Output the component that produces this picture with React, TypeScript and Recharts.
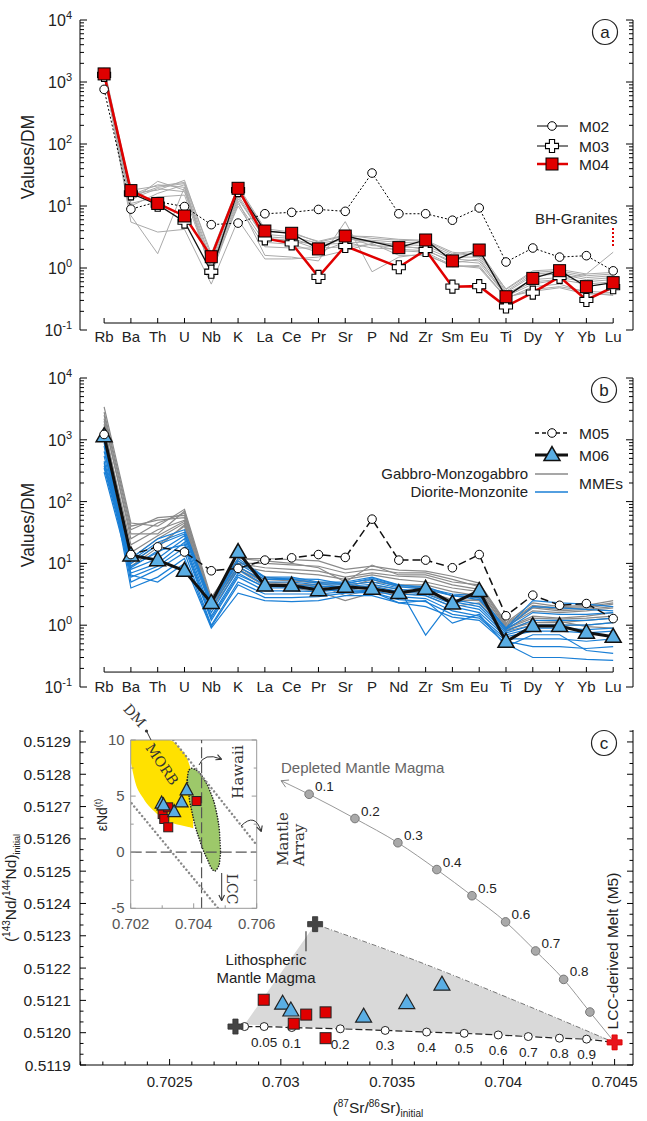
import React from "react";
import {
  LineChart,
  Line,
  XAxis,
  YAxis,
  ReferenceLine,
  ComposedChart,
  Area,
  Scatter,
  LabelList,
} from "recharts";

const FONT = "'Liberation Sans', Arial, Helvetica, sans-serif";
const SERIF = "'DejaVu Serif', 'Liberation Serif', serif";

// ---------- spider diagrams (a) and (b) ----------
const ELEMENTS = ["Rb", "Ba", "Th", "U", "Nb", "K", "La", "Ce", "Pr", "Sr", "P", "Nd", "Zr", "Sm", "Eu", "Ti", "Dy", "Y", "Yb", "Lu"];
const IDX = ELEMENTS.map((_, i) => i);

// (a) granites
const M02 = [760, 8.9, 11.7, 9.8, 5.0, 5.3, 7.5, 7.9, 8.8, 8.2, 34, 7.5, 7.5, 5.9, 9.3, 1.25, 2.1, 1.5, 1.58, 0.9];
const M03 = [1300, 16, 10.5, 5.6, 0.87, 18, 3.0, 2.5, 0.72, 2.26, null, 1.03, 1.95, 0.5, 0.51, 0.24, 0.4, 0.72, 0.305, 0.49];
const M04 = [1350, 17.7, 11, 6.9, 1.52, 19.3, 3.95, 3.63, 2.03, 3.28, null, 2.13, 2.83, 1.3, 1.95, 0.344, 0.68, 0.905, 0.5, 0.58];
const BH_GRANITES = [
  [1500, 15, 22, 20, 1.2, 15, 3.2, 3.0, 2.2, 3.0, 2.6, 2.4, 2.3, 1.5, 1.5, 0.4, 0.75, 0.8, 0.65, 0.7],
  [1400, 14, 20, 23, 1.3, 17, 3.5, 3.2, 2.5, 2.9, 2.8, 2.6, 2.5, 1.6, 1.7, 0.42, 0.8, 0.85, 0.7, 0.75],
  [1300, 12, 25, 18, 1.0, 13, 3.0, 2.8, 2.0, 3.2, 2.3, 2.2, 2.1, 1.4, 1.3, 0.38, 0.65, 0.7, 0.6, 0.65],
  [1600, 16, 18, 26, 1.5, 20, 4.0, 3.6, 2.7, 3.4, 3.0, 2.8, 2.7, 1.7, 1.9, 0.45, 0.85, 0.9, 0.75, 0.8],
  [1200, 10, 16, 22, 0.8, 11, 2.6, 2.4, 1.8, 2.6, 2.1, 2.0, 1.9, 1.3, 1.2, 0.36, 0.6, 0.65, 0.55, 0.6],
  [1450, 5.5, 3.8, 4.2, 0.55, 6.0, 1.4, 1.4, 1.5, 1.9, 2.5, 1.6, 1.6, 1.1, 1.0, 0.33, 0.45, 0.5, 0.42, 0.4],
  [1350, 7, 1.7, 20, 0.9, 12, 1.6, 1.5, 1.3, 5.6, 0.87, 1.5, 1.7, 1.05, 1.1, 0.32, 0.5, 0.55, 0.4, 0.36],
  [1550, 13, 19, 17, 1.1, 14, 2.9, 2.7, 2.4, 2.5, 2.7, 2.3, 2.0, 1.2, 1.4, 0.35, 0.55, 0.65, 0.8, 1.8],
  [1250, 11, 14, 15, 0.95, 10, 2.2, 2.1, 2.1, 2.2, 2.4, 1.9, 1.8, 1.1, 1.05, 0.34, 0.42, 0.48, 0.38, 0.38],
  [1700, 18, 21, 24, 1.7, 21, 4.3, 3.8, 2.6, 3.3, 3.2, 2.9, 2.8, 1.8, 1.6, 0.46, 0.9, 0.95, 0.8, 0.85],
];

// (b) MMEs
const M05 = [1220, 13.9, 18.5, 15.3, 7.6, 8.3, 11.3, 12.3, 13.9, 12.5, 52, 11.3, 11.3, 8.5, 13.9, 1.42, 3.06, 2.1, 2.24, 1.28];
const M06 = [1150, 13.5, 11.3, 7.6, 2.3, 15.3, 4.4, 4.4, 3.7, 4.2, 3.9, 3.33, 3.9, 2.25, 3.6, 0.54, 0.97, 0.97, 0.76, 0.65];
const GABBRO = [
  [3400, 45, 40, 75, 2.8, 12, 12, 11.5, 11, 8, 9, 7.8, 7.5, 6.2, 4.8, 1.1, 2.3, 2.0, 2.1, 2.5],
  [2500, 35, 55, 60, 2.5, 10, 10, 9.5, 9, 7, 8, 7, 7, 5.5, 4.2, 1.0, 2.0, 1.8, 1.9, 2.2],
  [2000, 30, 30, 70, 2.3, 9, 7.5, 7, 6.5, 5.5, 6.5, 5.5, 5, 4, 3.5, 0.95, 1.7, 1.6, 1.7, 1.9],
  [1500, 20, 35, 50, 2.0, 11, 6, 5.5, 5, 4.5, 5, 4.5, 4.5, 3.5, 3.0, 0.9, 1.4, 1.3, 1.4, 1.6],
  [1800, 12, 25, 45, 2.2, 8, 5, 4.8, 4.2, 3.5, 4.5, 3.8, 3.5, 2.6, 2.5, 0.85, 1.1, 1.1, 1.2, 1.3],
  [1200, 10, 20, 40, 1.8, 7.8, 4.3, 4.0, 3.5, 2.5, 3.3, 3.3, 3.0, 2.0, 2.3, 0.8, 1.0, 1.0, 1.0, 1.1],
  [2200, 25, 45, 65, 2.6, 10, 8.5, 8, 7.5, 6, 7, 6.2, 6.0, 4.5, 3.8, 0.95, 1.9, 1.7, 1.8, 2.0],
  [1000, 9, 18, 42, 1.9, 9, 4.8, 4.6, 4.5, 3, 3.8, 3.6, 3.3, 2.3, 2.7, 0.82, 1.2, 1.15, 0.95, 0.9],
  [2800, 40, 50, 55, 2.4, 12, 11, 10, 8.5, 5, 9.4, 6.5, 6.5, 5, 4.5, 1.05, 2.1, 1.9, 2.0, 2.3],
  [1400, 15, 28, 48, 2.1, 8.5, 5.5, 5.2, 4.8, 4, 5.5, 4.2, 4.0, 3.0, 3.2, 0.88, 1.3, 1.25, 1.3, 1.4],
];
const DIORITE = [
  [450, 12, 25, 35, 2.5, 12, 6, 6, 5, 5, 6, 4.5, 4, 3.2, 3.0, 0.9, 2.5, 2.3, 2.2, 2.0],
  [420, 10, 20, 30, 2.2, 10, 5.5, 5.5, 4.8, 4.8, 5.5, 4.2, 3.8, 3.0, 2.6, 0.85, 1.6, 1.5, 1.5, 1.6],
  [380, 9, 15, 28, 1.9, 9, 5, 5, 4.5, 4.5, 5, 4, 0.69, 2.6, 2.2, 0.8, 1.2, 1.2, 1.2, 1.3],
  [350, 8, 12, 25, 1.6, 8, 4.5, 4.5, 4.2, 4.2, 4.6, 3.8, 3.5, 2.4, 2.0, 0.75, 1.0, 1.0, 1.0, 1.1],
  [300, 7, 10, 22, 1.4, 7, 4, 4, 3.8, 4, 4.3, 3.5, 3.2, 2.2, 1.8, 0.7, 0.9, 0.9, 0.85, 0.9],
  [1000, 6, 9, 18, 1.2, 6, 3.6, 3.6, 3.5, 3.8, 4, 3.2, 3, 2.0, 1.6, 0.65, 0.8, 0.8, 0.75, 0.8],
  [900, 5, 8, 15, 1.0, 5, 3.2, 3.2, 3.2, 3.5, 3.7, 2.9, 2.7, 1.7, 1.4, 0.6, 0.6, 0.6, 0.55, 0.6],
  [800, 4, 6, 12, 0.95, 4.5, 2.8, 2.8, 2.9, 3.3, 3.4, 2.6, 2.4, 1.5, 1.3, 0.55, 0.45, 0.45, 0.42, 0.45],
  [1100, 6.5, 5, 10, 0.9, 3.3, 2.5, 2.4, 2.5, 3.0, 3.0, 2.3, 2.0, 1.35, 1.2, 0.5, 0.3, 0.3, 0.28, 0.27],
  [650, 11, 22, 32, 2.3, 11, 5.8, 5.6, 5.5, 4.6, 5.8, 4.4, 4.2, 3.0, 2.8, 0.88, 2.0, 1.9, 1.8, 1.7],
  [550, 8.5, 16, 20, 1.3, 6.5, 4.2, 4.2, 4, 3.6, 3.5, 2.3, 2.5, 1.08, 1.5, 0.45, 0.7, 0.7, 0.39, 0.35],
];

// ---------- (c) Sr-Nd isotopes ----------
const SR_SQUARES = [0.702923, 0.703058, 0.703114, 0.703201, 0.703201];
const ND_SQUARES = [0.512102, 0.512028, 0.512056, 0.512063, 0.511983];
const SR_TRIANGLES = [0.703008, 0.703045, 0.703372, 0.703566, 0.703724];
const ND_TRIANGLES = [0.51209, 0.512069, 0.51205, 0.512092, 0.512149];

// end members
const SR_ENDS_GRAY = [0.703154, 0.702796];
const ND_ENDS_GRAY = [0.512336, 0.512019];
const SR_LCC = 0.7045;
const ND_LCC = 0.51197;

// mixing with lithospheric mantle magma (open circles)
const MIX_LOW_LABELS = ["", "0.05", "0.1", "0.2", "0.3", "0.4", "0.5", "0.6", "0.7", "0.8", "0.9"];
const MIX_LOW_SR = [0.702837, 0.702925, 0.703049, 0.703267, 0.703469, 0.703655, 0.703824, 0.703977, 0.704112, 0.704252, 0.704374];
const MIX_LOW_ND = [0.512019, 0.512019, 0.512016, 0.512012, 0.512007, 0.512002, 0.511998, 0.511993, 0.511988, 0.511983, 0.51198];

// mixing with depleted mantle magma (grey circles)
const DMM_TIP = [0.703001, 0.51278];
const MIX_UP_LABELS = ["0.1", "0.2", "0.3", "0.4", "0.5", "0.6", "0.7", "0.8", ""];
const MIX_UP_SR = [0.703127, 0.703333, 0.703526, 0.703701, 0.703859, 0.70401, 0.704145, 0.704271, 0.704389];
const MIX_UP_ND = [0.512738, 0.512663, 0.512588, 0.512505, 0.512424, 0.512343, 0.512253, 0.512165, 0.512064];

// grey field (lower and upper edges)
const FIELD_SR = [0.702837, 0.703154, 0.7036, 0.70405, 0.70447];
const FIELD_LO = [0.512025, 0.512016, 0.512005, 0.511992, 0.511978];
const FIELD_HI = [0.512025, 0.512336, 0.512225, 0.5121, 0.511978];

// inset: eNd(t) vs Sr
const MORB_SR = [0.702, 0.70214, 0.7024, 0.70282, 0.70322, 0.70356, 0.70383, 0.70393, 0.703985];
const MORB_LO = [8.07, 6.29, 4.8, 3.46, 2.72, 2.42, 2.25, 2.18, 2.13];
const MORB_HI = [10, 10, 10, 10, 10, 9.26, 8.07, 6.88, 5.39];
const HAWAII_SR = [0.703794, 0.70383, 0.70386, 0.70393, 0.70404, 0.7042, 0.70428, 0.70446, 0.70451, 0.70467, 0.70478, 0.70481, 0.704853];
const HAWAII_LO = [6.43, 5.6, 4.8, 3.8, 2.42, 1.0, 0.35, -0.8, -1.14, -1.68, -1.29, -1.1, 0.04];
const HAWAII_HI = [6.43, 7.2, 7.35, 7.48, 7.38, 7.03, 6.7, 5.84, 5.5, 4.21, 2.7, 2.13, 0.04];
const ARRAY_UPPER = [[0.70335, 10], [0.706, 0.64]];
const ARRAY_LOWER = [[0.70203, 4.36], [0.704777, -5]];
const INSET_SQ_SR = [0.703014, 0.703065, 0.703192, 0.70319, 0.70409];
const INSET_SQ_END = [3.4, 2.96, 2.22, 4.0, 4.56];
const INSET_TRI_SR = [0.702982, 0.70338, 0.703617, 0.703775, 0.70304];
const INSET_TRI_END = [4.36, 3.6, 4.47, 5.54, 4.2];

// ---------- helpers ----------
const RED = "#e00000";
const BLUE_FILL = "#5aaee4";
const BLUE_LINE = "#1a7fd6";

const LOG_TICKS: number[] = [];
for (let e = -1; e <= 3; e++) for (let k = 1; k <= 9; k++) LOG_TICKS.push(+(k * Math.pow(10, e)).toPrecision(6));
LOG_TICKS.push(10000);
const isPow10 = (v: number) => Math.abs(Math.log10(v) - Math.round(Math.log10(v))) < 1e-9;

const plusPath = (cx: number, cy: number, a: number, b: number) =>
  `M${cx - b},${cy - a}H${cx + b}V${cy - b}H${cx + a}V${cy + b}H${cx + b}V${cy + a}H${cx - b}V${cy + b}H${cx - a}V${cy - b}H${cx - b}Z`;
const triPath = (cx: number, cy: number, w: number, h: number) =>
  `M${cx},${cy - h * 0.6}L${cx + w / 2},${cy + h * 0.4}L${cx - w / 2},${cy + h * 0.4}Z`;

const ok = (p: any) => p.cx != null && p.cy != null && p.value != null && !Number.isNaN(p.cy);

const circleDot = (r: number, fill = "#fff", stroke = "#000") => (p: any) =>
  ok(p) ? <circle key={p.index} cx={p.cx} cy={p.cy} r={r} fill={fill} stroke={stroke} strokeWidth={1} /> : <g key={p.index} />;
const crossDot = (p: any) =>
  ok(p) ? <path key={p.index} d={plusPath(p.cx, p.cy, 6.5, 2.6)} fill="#fff" stroke="#000" strokeWidth={1.1} /> : <g key={p.index} />;
const squareDot = (p: any) =>
  ok(p) ? <rect key={p.index} x={p.cx - 6} y={p.cy - 6} width={12} height={12} fill={RED} stroke="#000" strokeWidth={1} /> : <g key={p.index} />;
const triDot = (p: any) =>
  ok(p) ? <path key={p.index} d={triPath(p.cx, p.cy, 16, 14)} fill={BLUE_FILL} stroke="#111" strokeWidth={1.5} /> : <g key={p.index} />;

const LogTickLeft = (p: any) => {
  const v = p.payload.value;
  const major = isPow10(v);
  return (
    <g>
      <line x1={p.x} x2={p.x + (major ? 7 : 4)} y1={p.y} y2={p.y} stroke="#000" />
      {major && (
        <text x={p.x - 8} y={p.y + 6} textAnchor="end" fontSize={16} fontFamily={FONT} fill="#222">
          10<tspan dy={-7} fontSize={11}>{Math.round(Math.log10(v))}</tspan>
        </text>
      )}
    </g>
  );
};
const LogTickRight = (p: any) => {
  const major = isPow10(p.payload.value);
  return <line x1={p.x} x2={p.x - (major ? 7 : 4)} y1={p.y} y2={p.y} stroke="#000" />;
};
const catTick = (lineOff: number, labelOff: number) => (p: any) => {
  const ly = p.y - lineOff;
  return (
    <g>
      <line x1={p.x} x2={p.x} y1={ly} y2={ly - 5} stroke="#000" />
      <text x={p.x} y={ly + labelOff} textAnchor="middle" fontSize={15} fontFamily={FONT} fill="#222">
        {ELEMENTS[p.payload.value]}
      </text>
    </g>
  );
};

function spiderAxes(lineOff: number, labelOff: number, axisValue: number) {
  return [
    <XAxis key="x" dataKey="i" type="number" domain={[-0.9, 19.74]} ticks={IDX} interval={0} allowDataOverflow height={30}
      tickSize={0} tickMargin={0} axisLine={false} tickLine={false} tick={catTick(lineOff, labelOff)} />,
    <YAxis key="l" yAxisId="l" type="number" scale="log" domain={[0.1, 10000]} allowDataOverflow ticks={LOG_TICKS} interval={0}
      width={60} tickSize={0} tickMargin={0} tickLine={false} axisLine={{ stroke: "#000" }} tick={LogTickLeft} />,
    <YAxis key="r" yAxisId="r" orientation="right" type="number" scale="log" domain={[0.1, 10000]} allowDataOverflow ticks={LOG_TICKS}
      interval={0} width={14} tickSize={0} tickMargin={0} tickLine={false} axisLine={{ stroke: "#000" }} tick={LogTickRight} />,
    <ReferenceLine key="cat" yAxisId="l" segment={[{ x: 0, y: axisValue }, { x: 19, y: axisValue }]} stroke="#000" />,
  ];
}

function PanelA() {
  const rows = ELEMENTS.map((name, i) => {
    const r: any = { i, name, m02: M02[i], m03: M03[i], m04: M04[i] };
    // in the source figure the red and black lines swap partners after K
    r.red = i <= 5 ? M04[i] : M03[i];
    r.black = i <= 5 ? M03[i] : M04[i];
    BH_GRANITES.forEach((s, k) => (r["g" + k] = s[i]));
    return r;
  });
  return (
    <LineChart width={647} height={360} data={rows} margin={{ top: 20, right: 0, bottom: 0, left: 20 }}>
      {spiderAxes(7, 19, 0.1 * Math.pow(10, 7 / 62))}
      <Line yAxisId="r" dataKey="m02" stroke="none" dot={false} isAnimationActive={false} />
      {BH_GRANITES.map((_, k) => (
        <Line key={k} yAxisId="l" dataKey={"g" + k} type="linear" stroke="#aaaaaa" strokeWidth={1} dot={false} isAnimationActive={false} />
      ))}
      <Line yAxisId="l" dataKey="m02" type="linear" stroke="#000" strokeWidth={1} strokeDasharray="2 2" dot={circleDot(4.3)} isAnimationActive={false} />
      <Line yAxisId="l" dataKey="black" type="linear" stroke="#111" strokeWidth={1.3} connectNulls dot={false} isAnimationActive={false} />
      <Line yAxisId="l" dataKey="red" type="linear" stroke={RED} strokeWidth={2.5} connectNulls dot={false} isAnimationActive={false} />
      <Line yAxisId="l" dataKey="m03" stroke="none" dot={crossDot} isAnimationActive={false} />
      <Line yAxisId="l" dataKey="m04" stroke="none" dot={squareDot} isAnimationActive={false} />
    </LineChart>
  );
}

function PanelB() {
  const rows = ELEMENTS.map((name, i) => {
    const r: any = { i, name, m05: M05[i], m06: M06[i] };
    GABBRO.forEach((s, k) => (r["g" + k] = s[i]));
    DIORITE.forEach((s, k) => (r["d" + k] = s[i]));
    return r;
  });
  return (
    <LineChart width={647} height={360} data={rows} margin={{ top: 20, right: 0, bottom: 1, left: 20 }}>
      {spiderAxes(15, 20, 0.1 * Math.pow(10, 15 / 62))}
      <Line yAxisId="r" dataKey="m05" stroke="none" dot={false} isAnimationActive={false} />
      {GABBRO.map((_, k) => (
        <Line key={"g" + k} yAxisId="l" dataKey={"g" + k} type="linear" stroke="#8a8a8a" strokeWidth={1.2} dot={false} isAnimationActive={false} />
      ))}
      {DIORITE.map((_, k) => (
        <Line key={"d" + k} yAxisId="l" dataKey={"d" + k} type="linear" stroke={BLUE_LINE} strokeWidth={1.2} dot={false} isAnimationActive={false} />
      ))}
      <Line yAxisId="l" dataKey="m06" type="linear" stroke="#111" strokeWidth={3} dot={triDot} isAnimationActive={false} />
      <Line yAxisId="l" dataKey="m05" type="linear" stroke="#111" strokeWidth={1.5} strokeDasharray="8 4" dot={circleDot(4.3)} isAnimationActive={false} />
    </LineChart>
  );
}

// ---------- (c) ----------
const SR_TICKS: number[] = [];
for (let k = 7021; k <= 7045; k++) SR_TICKS.push(k / 10000);
const ND_TICKS: number[] = [];
for (let j = 0; j <= 31; j++) ND_TICKS.push(+(0.5119 + (j * 0.0001) / 3).toFixed(9));

const SrTick = (p: any) => {
  const v = p.payload.value;
  const major = Math.round(v * 10000) % 5 === 0;
  return (
    <g>
      <line x1={p.x} x2={p.x} y1={p.y} y2={p.y - (major ? 6 : 3.5)} stroke="#000" />
      {major && (
        <text x={p.x} y={p.y + 22} textAnchor="middle" fontSize={15} fontFamily={FONT} fill="#222">
          {String(+v.toFixed(4))}
        </text>
      )}
    </g>
  );
};
const ndMajor = (v: number) => {
  const j = Math.round(((v - 0.5119) / 0.0001) * 3);
  return j % 3 === 0;
};
const NdTickLeft = (p: any) => {
  const v = p.payload.value;
  const major = ndMajor(v);
  return (
    <g>
      <line x1={p.x} x2={p.x + (major ? 6 : 3.5)} y1={p.y} y2={p.y} stroke="#000" />
      {major && (
        <text x={p.x - 9} y={p.y + 5.5} textAnchor="end" fontSize={15.5} fontFamily={FONT} fill="#222">
          {v.toFixed(4)}
        </text>
      )}
    </g>
  );
};
const NdTickRight = (p: any) => {
  const major = ndMajor(p.payload.value);
  return <line x1={p.x} x2={p.x - (major ? 6 : 3.5)} y1={p.y} y2={p.y} stroke="#000" />;
};

const grayPlus = (p: any) => <path d={plusPath(p.cx, p.cy, 7.5, 2.6)} fill="#444" stroke="#333" strokeWidth={0.8} />;
const redPlus = (p: any) => <path d={plusPath(p.cx, p.cy, 7.5, 2.6)} fill="#e8141c" stroke="#d00" strokeWidth={0.8} />;
const sqShape = (s: number) => (p: any) => (
  <rect x={p.cx - s / 2} y={p.cy - s / 2} width={s} height={s} fill={RED} stroke="#222" strokeWidth={1} />
);
const triShape = (w: number, h: number) => (p: any) => (
  <path d={triPath(p.cx, p.cy, w, h)} fill={BLUE_FILL} stroke="#222" strokeWidth={1.2} />
);

function PanelC() {
  const field = FIELD_SR.map((x, i) => ({ x, band: [FIELD_LO[i], FIELD_HI[i]], hi: FIELD_HI[i] }));
  const low = [
    { x: SR_ENDS_GRAY[1], y: ND_ENDS_GRAY[1], kind: "end", lab: "" },
    ...MIX_LOW_SR.map((x, i) => ({ x, y: MIX_LOW_ND[i], kind: "pt", lab: MIX_LOW_LABELS[i] })),
    { x: SR_LCC, y: ND_LCC, kind: "end", lab: "" },
  ];
  const up = [
    { x: DMM_TIP[0], y: DMM_TIP[1], kind: "tip", lab: "" },
    ...MIX_UP_SR.map((x, i) => ({ x, y: MIX_UP_ND[i], kind: "pt", lab: MIX_UP_LABELS[i] })),
    { x: SR_LCC, y: ND_LCC, kind: "end", lab: "" },
  ];
  const squares = SR_SQUARES.map((x, i) => ({ x, y: ND_SQUARES[i] }));
  const triangles = SR_TRIANGLES.map((x, i) => ({ x, y: ND_TRIANGLES[i] }));
  const grays = SR_ENDS_GRAY.map((x, i) => ({ x, y: ND_ENDS_GRAY[i] }));

  const lowDot = (p: any) =>
    p.payload && p.payload.kind === "pt" ? (
      <circle key={p.index} cx={p.cx} cy={p.cy} r={4} fill="#fff" stroke="#222" strokeWidth={1} />
    ) : (
      <g key={p.index} />
    );
  const upDot = (p: any) => {
    if (!p.payload) return <g key={p.index} />;
    if (p.payload.kind === "pt") return <circle key={p.index} cx={p.cx} cy={p.cy} r={4.3} fill="#a9a9a9" stroke="#777" strokeWidth={1} />;
    if (p.payload.kind === "tip")
      return (
        <polyline key={p.index} points={`${p.cx + 4.6},${p.cy + 6.5} ${p.cx},${p.cy} ${p.cx + 8},${p.cy - 0.7}`} fill="none" stroke="#888" strokeWidth={1} />
      );
    return <g key={p.index} />;
  };

  return (
    <ComposedChart width={647} height={411} margin={{ top: 20, right: 0, bottom: 26, left: 20 }}>
      <XAxis dataKey="x" type="number" domain={[0.7020973, 0.7045827]} allowDataOverflow ticks={SR_TICKS} interval={0} height={30}
        tickSize={0} tickMargin={0} tickLine={false} axisLine={{ stroke: "#000" }} tick={SrTick} />
      <YAxis yAxisId="l" type="number" domain={[0.5119, 0.512937]} allowDataOverflow ticks={ND_TICKS} interval={0} width={60}
        tickSize={0} tickMargin={0} tickLine={false} axisLine={{ stroke: "#000" }} tick={NdTickLeft} />
      <YAxis yAxisId="r" orientation="right" type="number" domain={[0.5119, 0.512937]} allowDataOverflow ticks={ND_TICKS} interval={0}
        width={14} tickSize={0} tickMargin={0} tickLine={false} axisLine={{ stroke: "#000" }} tick={NdTickRight} />
      <Area yAxisId="l" data={field} dataKey="band" type="linear" fill="#d9d9d9" fillOpacity={1} stroke="none" isAnimationActive={false} />
      <Line yAxisId="r" data={field.slice(1)} dataKey="hi" type="monotone" stroke="#555" strokeWidth={0.8} strokeDasharray="5 2 1 2" dot={false} isAnimationActive={false} />
      <ReferenceLine yAxisId="l" segment={[{ x: 0.703113, y: 0.512314 }, { x: 0.703113, y: 0.512252 }]} stroke="#222" />
      <Line yAxisId="l" data={up} dataKey="y" type="monotone" stroke="#999" strokeWidth={1} dot={upDot} isAnimationActive={false}>
        <LabelList dataKey="lab" content={(p: any) => (p.value ? <text x={p.x + 6} y={p.y - 3} fontSize={13.5} fontFamily={FONT} fill="#222">{p.value}</text> : null)} />
      </Line>
      <Line yAxisId="l" data={low} dataKey="y" type="linear" stroke="#222" strokeWidth={1.2} strokeDasharray="7 3" dot={lowDot} isAnimationActive={false}>
        <LabelList dataKey="lab" content={(p: any) => (p.value ? <text x={p.x} y={p.y + 20} textAnchor="middle" fontSize={13.5} fontFamily={FONT} fill="#222">{p.value}</text> : null)} />
      </Line>
      <Scatter yAxisId="l" data={grays} dataKey="y" shape={grayPlus} isAnimationActive={false} />
      <Scatter yAxisId="l" data={[{ x: SR_LCC, y: ND_LCC }]} dataKey="y" shape={redPlus} isAnimationActive={false} />
      <Scatter yAxisId="l" data={squares} dataKey="y" shape={sqShape(11)} isAnimationActive={false} />
      <Scatter yAxisId="l" data={triangles} dataKey="y" shape={triShape(16, 14)} isAnimationActive={false} />
    </ComposedChart>
  );
}

const InsetTickLeft = (p: any) => {
  const v = p.payload.value;
  const major = v % 5 === 0;
  return (
    <g>
      <line x1={p.x} x2={p.x + (major ? 5 : 3)} y1={p.y} y2={p.y} stroke="#999" />
      {major && (
        <text x={p.x - 6} y={p.y + 5} textAnchor="end" fontSize={15} fontFamily={FONT} fill="#555">
          {v}
        </text>
      )}
    </g>
  );
};
const InsetTickRight = (p: any) => {
  const major = p.payload.value % 5 === 0;
  return <line x1={p.x} x2={p.x - (major ? 5 : 3)} y1={p.y} y2={p.y} stroke="#999" />;
};
const InsetTickBottom = (p: any) => {
  const v = p.payload.value;
  const major = Math.round(v * 1000) % 2 === 0;
  return (
    <g>
      <line x1={p.x} x2={p.x} y1={p.y} y2={p.y - (major ? 5 : 3)} stroke="#999" />
      {major && (
        <text x={p.x} y={p.y + 21} textAnchor="middle" fontSize={15} fontFamily={FONT} fill="#555">
          {v.toFixed(3)}
        </text>
      )}
    </g>
  );
};

function Inset() {
  const morb = MORB_SR.map((x, i) => ({ x, band: [MORB_LO[i], MORB_HI[i]] }));
  const hawaii = HAWAII_SR.map((x, i) => ({ x, band: [HAWAII_LO[i], HAWAII_HI[i]], lo: HAWAII_LO[i], hi: HAWAII_HI[i] }));
  const upper = ARRAY_UPPER.map(([x, y]) => ({ x, y }));
  const lower = ARRAY_LOWER.map(([x, y]) => ({ x, y }));
  const sq = INSET_SQ_SR.map((x, i) => ({ x, y: INSET_SQ_END[i] }));
  const tri = INSET_TRI_SR.map((x, i) => ({ x, y: INSET_TRI_END[i] }));
  return (
    <ComposedChart width={300} height={240} margin={{ top: 40, right: 13.3, bottom: 11.7, left: 100.7 }}>
      <XAxis dataKey="x" type="number" domain={[0.702, 0.706]} allowDataOverflow ticks={[0.702, 0.703, 0.704, 0.705, 0.706]} interval={0}
        height={20} tickSize={0} tickMargin={0} tickLine={false} axisLine={{ stroke: "#999" }} tick={InsetTickBottom} />
      <YAxis yAxisId="l" type="number" domain={[-5, 10]} allowDataOverflow ticks={[-5, -2.5, 0, 2.5, 5, 7.5, 10]} interval={0} width={30}
        tickSize={0} tickMargin={0} tickLine={false} axisLine={{ stroke: "#999" }} tick={InsetTickLeft} />
      <YAxis yAxisId="r" orientation="right" type="number" domain={[-5, 10]} allowDataOverflow ticks={[-5, -2.5, 0, 2.5, 5, 7.5, 10]} interval={0}
        width={30} tickSize={0} tickMargin={0} tickLine={false} axisLine={{ stroke: "#999" }} tick={InsetTickRight} />
      <ReferenceLine yAxisId="l" y={10} stroke="#999" />
      <Area yAxisId="l" data={morb} dataKey="band" type="monotone" fill="#ffe100" fillOpacity={1} stroke="none" isAnimationActive={false} />
      <Area yAxisId="l" data={hawaii} dataKey="band" type="monotone" fill="#9dc86a" fillOpacity={1} stroke="none" isAnimationActive={false} />
      <Line yAxisId="l" data={hawaii} dataKey="hi" type="monotone" stroke="#222" strokeWidth={1.6} strokeDasharray="0.1 2.6" strokeLinecap="round" dot={false} isAnimationActive={false} />
      <Line yAxisId="l" data={hawaii} dataKey="lo" type="monotone" stroke="#222" strokeWidth={1.6} strokeDasharray="0.1 2.6" strokeLinecap="round" dot={false} isAnimationActive={false} />
      <ReferenceLine yAxisId="l" x={0.70425} stroke="#555" strokeWidth={1.2} strokeDasharray="11 4" />
      <ReferenceLine yAxisId="l" y={0} stroke="#555" strokeWidth={1.2} strokeDasharray="11 4" />
      <Line yAxisId="l" data={upper} dataKey="y" type="linear" stroke="#888" strokeWidth={2.4} strokeDasharray="0.1 4" strokeLinecap="round" dot={false} isAnimationActive={false} />
      <Line yAxisId="l" data={lower} dataKey="y" type="linear" stroke="#888" strokeWidth={2.4} strokeDasharray="0.1 4" strokeLinecap="round" dot={false} isAnimationActive={false} />
      <Scatter yAxisId="l" data={sq} dataKey="y" shape={sqShape(9)} isAnimationActive={false} />
      <Scatter yAxisId="l" data={tri} dataKey="y" shape={triShape(13, 12)} isAnimationActive={false} />
    </ComposedChart>
  );
}

function Overlay() {
  const t = { fontFamily: FONT, fill: "#222" } as const;
  const circled = (cx: number, cy: number, s: string) => (
    <g>
      <circle cx={cx} cy={cy} r={12.5} fill="#fff" stroke="#222" strokeWidth={1.2} />
      <text x={cx} y={cy + 5.5} textAnchor="middle" fontSize={17} {...t}>{s}</text>
    </g>
  );
  return (
    <svg width={647} height={1121} style={{ position: "absolute", left: 0, top: 0, pointerEvents: "none" }}>
      <defs>
        <marker id="ah" viewBox="0 0 10 10" refX="8" refY="5" markerWidth="7" markerHeight="7" markerUnits="userSpaceOnUse" orient="auto">
          <path d="M1,1 L9,5 L1,9" fill="none" stroke="#333" strokeWidth={1.6} />
        </marker>
      </defs>
      {/* y titles */}
      <text transform="translate(34,157) rotate(-90)" textAnchor="middle" fontSize={17.5} {...t}>Values/DM</text>
      <text transform="translate(34,525) rotate(-90)" textAnchor="middle" fontSize={17.5} {...t}>Values/DM</text>

      {/* panel a legend */}
      {circled(605, 32, "a")}
      <line x1={537} x2={568} y1={126} y2={126} stroke="#000" />
      <circle cx={552} cy={126} r={4.3} fill="#fff" stroke="#000" />
      <text x={579} y={131.5} fontSize={15.5} {...t}>M02</text>
      <line x1={537} x2={568} y1={146} y2={146} stroke="#000" />
      <path d={plusPath(552, 146, 6.5, 2.6)} fill="#fff" stroke="#000" strokeWidth={1.1} />
      <text x={579} y={151.5} fontSize={15.5} {...t}>M03</text>
      <line x1={537} x2={568} y1={164} y2={164} stroke={RED} strokeWidth={2.5} />
      <rect x={546} y={158} width={12} height={12} fill={RED} stroke="#000" />
      <text x={579} y={169.5} fontSize={15.5} {...t}>M04</text>
      <text x={535} y={223.5} fontSize={15} {...t}>BH-Granites</text>
      <line x1={613} x2={613} y1={228} y2={248} stroke={RED} strokeWidth={2} strokeDasharray="2 2" />

      {/* panel b legend */}
      {circled(604, 390, "b")}
      <line x1={535} x2={568} y1={433} y2={433} stroke="#111" strokeWidth={1.3} strokeDasharray="4 3" />
      <circle cx={552} cy={433} r={4.3} fill="#fff" stroke="#000" />
      <text x={579} y={438.5} fontSize={15.5} {...t}>M05</text>
      <line x1={535} x2={568} y1={455} y2={455} stroke="#111" strokeWidth={3} />
      <path d={triPath(552, 455, 16, 14)} fill={BLUE_FILL} stroke="#111" strokeWidth={1.5} />
      <text x={579} y={460.5} fontSize={15.5} {...t}>M06</text>
      <text x={528} y={479} textAnchor="end" fontSize={15} {...t}>Gabbro-Monzogabbro</text>
      <line x1={535} x2={568} y1={474} y2={474} stroke="#8a8a8a" strokeWidth={1.5} />
      <text x={528} y={497} textAnchor="end" fontSize={15} {...t}>Diorite-Monzonite</text>
      <line x1={535} x2={568} y1={492} y2={492} stroke={BLUE_LINE} strokeWidth={1.5} />
      <text x={579} y={488.5} fontSize={15.5} {...t}>MMEs</text>

      {/* panel c */}
      {circled(604, 743, "c")}
      <text transform="translate(16,888) rotate(-90)" textAnchor="middle" fontSize={15.5} {...t}>
        (<tspan dy={-6} fontSize={10}>143</tspan><tspan dy={6}>Nd/</tspan><tspan dy={-6} fontSize={10}>144</tspan><tspan dy={6}>Nd)</tspan><tspan dy={4} fontSize={9}>initial</tspan>
      </text>
      <text x={378} y={1113} textAnchor="middle" fontSize={15.5} {...t}>
        (<tspan dy={-6} fontSize={10}>87</tspan><tspan dy={6}>Sr/</tspan><tspan dy={-6} fontSize={10}>86</tspan><tspan dy={6}>Sr)</tspan><tspan dy={4} fontSize={10}>initial</tspan>
      </text>
      <text x={281} y={772.5} fontSize={15} fontFamily={FONT} fill="#666">Depleted Mantle Magma</text>
      <text transform="translate(618,951) rotate(-90)" textAnchor="middle" fontSize={15.5} {...t}>LCC-derived Melt (M5)</text>
      <text x={266} y={965} textAnchor="middle" fontSize={15} {...t}>Lithospheric</text>
      <text x={266} y={983} textAnchor="middle" fontSize={15} {...t}>Mantle Magma</text>

      {/* inset annotations */}
      <text transform="translate(107,815) rotate(-90)" textAnchor="middle" fontSize={14} {...t}>
        εNd<tspan dy={-6} fontSize={9}>(t)</tspan>
      </text>
      <text transform="translate(131,719) rotate(48)" textAnchor="middle" fontSize={14} fontFamily={SERIF} fill="#333">DM</text>
      <line x1={151} x2={146.5} y1={740} y2={731} stroke="#333" strokeWidth={1} />
      <circle cx={146.5} cy={731} r={1.6} fill="#333" />
      <text transform="translate(158,767) rotate(56)" textAnchor="middle" fontSize={14} fontFamily={SERIF} fill="#333">MORB</text>
      <text transform="translate(243,772) rotate(-90)" textAnchor="middle" fontSize={15} fontFamily={SERIF} fill="#333">Hawaii</text>
      <text transform="translate(288,839) rotate(-90)" textAnchor="middle" fontSize={15} fontFamily={SERIF} fill="#333">Mantle</text>
      <text transform="translate(304,845) rotate(-90)" textAnchor="middle" fontSize={15} fontFamily={SERIF} fill="#333">Array</text>
      <text transform="translate(227,889) rotate(90)" textAnchor="middle" fontSize={14} fontFamily={SERIF} fill="#333">LCC</text>
      <line x1={221.7} x2={221.7} y1={873} y2={900} stroke="#333" strokeWidth={1} markerEnd="url(#ah)" />
      <path d="M199,765 Q204,752 221,759" fill="none" stroke="#333" strokeWidth={1} markerEnd="url(#ah)" />
      <path d="M241,826 Q255,812 261,831" fill="none" stroke="#333" strokeWidth={1} markerEnd="url(#ah)" />
    </svg>
  );
}

export default function App() {
  return (
    <div style={{ position: "absolute", left: 0, top: 0, width: 647, height: 1121, background: "#fff", fontFamily: FONT }}>
      <div style={{ position: "absolute", left: 0, top: 0 }}><PanelA /></div>
      <div style={{ position: "absolute", left: 0, top: 358 }}><PanelB /></div>
      <div style={{ position: "absolute", left: 0, top: 710 }}><PanelC /></div>
      <div style={{ position: "absolute", left: 0, top: 700 }}><Inset /></div>
      <Overlay />
    </div>
  );
}
